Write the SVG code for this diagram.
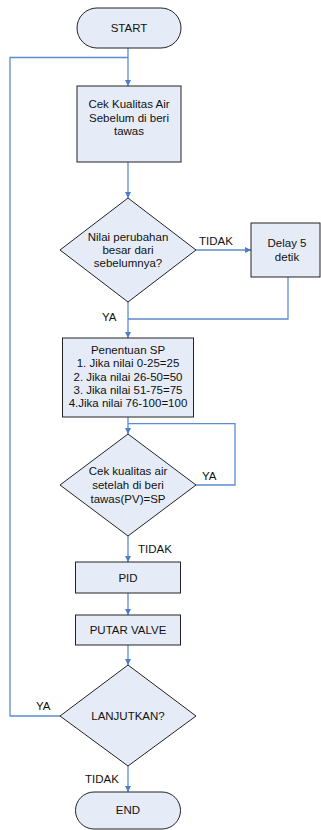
<svg xmlns="http://www.w3.org/2000/svg" width="321" height="830" viewBox="0 0 321 830">
<style>
.n{fill:#E6ECF7;stroke:#222;stroke-width:1}
.t{font-family:"Liberation Sans",Arial,sans-serif;font-size:11.5px;fill:#111;text-anchor:middle;dominant-baseline:central}
.l{font-family:"Liberation Sans",Arial,sans-serif;font-size:11.5px;fill:#111;dominant-baseline:central}
.c{fill:none;stroke:#5B8BD0;stroke-width:1.3}
</style>
<defs>
<marker id="a" viewBox="0 0 8 8" refX="8" refY="4" markerWidth="6" markerHeight="6" markerUnits="userSpaceOnUse" orient="auto">
<path d="M0,0 L8,4 L0,8 z" fill="#4A7EC8"/>
</marker>
</defs>
<rect width="321" height="830" fill="#fff"/>
<g id="connectors">
<path class="c" d="M128,48 V86" marker-end="url(#a)"/>
<path class="c" d="M60,716 H10 V57.5 H128"/>
<path class="c" d="M128,162 V198" marker-end="url(#a)"/>
<path class="c" d="M196,250 H251" marker-end="url(#a)"/>
<path class="c" d="M288,277 V319 H128"/>
<path class="c" d="M128,302 V338" marker-end="url(#a)"/>
<path class="c" d="M128,417 V434" marker-end="url(#a)"/>
<path class="c" d="M196,485 H235 V423.7 H128"/>
<path class="c" d="M128,536 V562" marker-end="url(#a)"/>
<path class="c" d="M128,593 V615" marker-end="url(#a)"/>
<path class="c" d="M128,645 V665" marker-end="url(#a)"/>
<path class="c" d="M128,766 V792" marker-end="url(#a)"/>
<text class="l" x="199" y="241">TIDAK</text>
<text class="l" x="102" y="317">YA</text>
<text class="l" x="202" y="476">YA</text>
<text class="l" x="138" y="549">TIDAK</text>
<text class="l" x="36" y="706">YA</text>
<text class="l" x="85" y="779">TIDAK</text>
</g>
<g id="start">
<rect class="n" x="77" y="8" width="104" height="40" rx="20"/>
<text class="t" x="129" y="28">START</text>
</g>
<g id="cek1">
<rect class="n" x="77" y="86" width="104" height="76"/>
<text class="t" x="129" y="104">Cek Kualitas Air</text>
<text class="t" x="129" y="117.5">Sebelum di beri</text>
<text class="t" x="129" y="131">tawas</text>
</g>
<g id="dec1">
<polygon class="n" points="128,198 196,250 128,302 60,250"/>
<text class="t" x="128" y="237">Nilai perubahan</text>
<text class="t" x="128" y="250">besar dari</text>
<text class="t" x="128" y="263">sebelumnya?</text>
</g>
<g id="delay">
<rect class="n" x="251" y="223" width="69" height="54"/>
<text class="t" x="287" y="243">Delay 5</text>
<text class="t" x="287" y="257">detik</text>
</g>
<g id="sp">
<rect class="n" x="62.5" y="338" width="131" height="79"/>
<text class="t" x="128" y="350">Penentuan SP</text>
<text class="t" x="128" y="363.3">1. Jika nilai 0-25=25</text>
<text class="t" x="128" y="376.7">2. Jika nilai 26-50=50</text>
<text class="t" x="128" y="390">3. Jika nilai 51-75=75</text>
<text class="t" x="128" y="403.3">4.Jika nilai 76-100=100</text>
</g>
<g id="dec2">
<polygon class="n" points="128,434 196,485 128,536 60,485"/>
<text class="t" x="128" y="471">Cek kualitas air</text>
<text class="t" x="128" y="485">setelah di beri</text>
<text class="t" x="128" y="499">tawas(PV)=SP</text>
</g>
<g id="pid">
<rect class="n" x="75.5" y="562" width="105" height="31"/>
<text class="t" x="128" y="577.5">PID</text>
</g>
<g id="valve">
<rect class="n" x="75.5" y="615" width="105" height="30"/>
<text class="t" x="128" y="630">PUTAR VALVE</text>
</g>
<g id="dec3">
<polygon class="n" points="128,665 196,716 128,766 60,716"/>
<text class="t" x="128" y="716">LANJUTKAN?</text>
</g>
<g id="end">
<rect class="n" x="75.5" y="792" width="105" height="37" rx="18.5"/>
<text class="t" x="128" y="810">END</text>
</g>
</svg>
